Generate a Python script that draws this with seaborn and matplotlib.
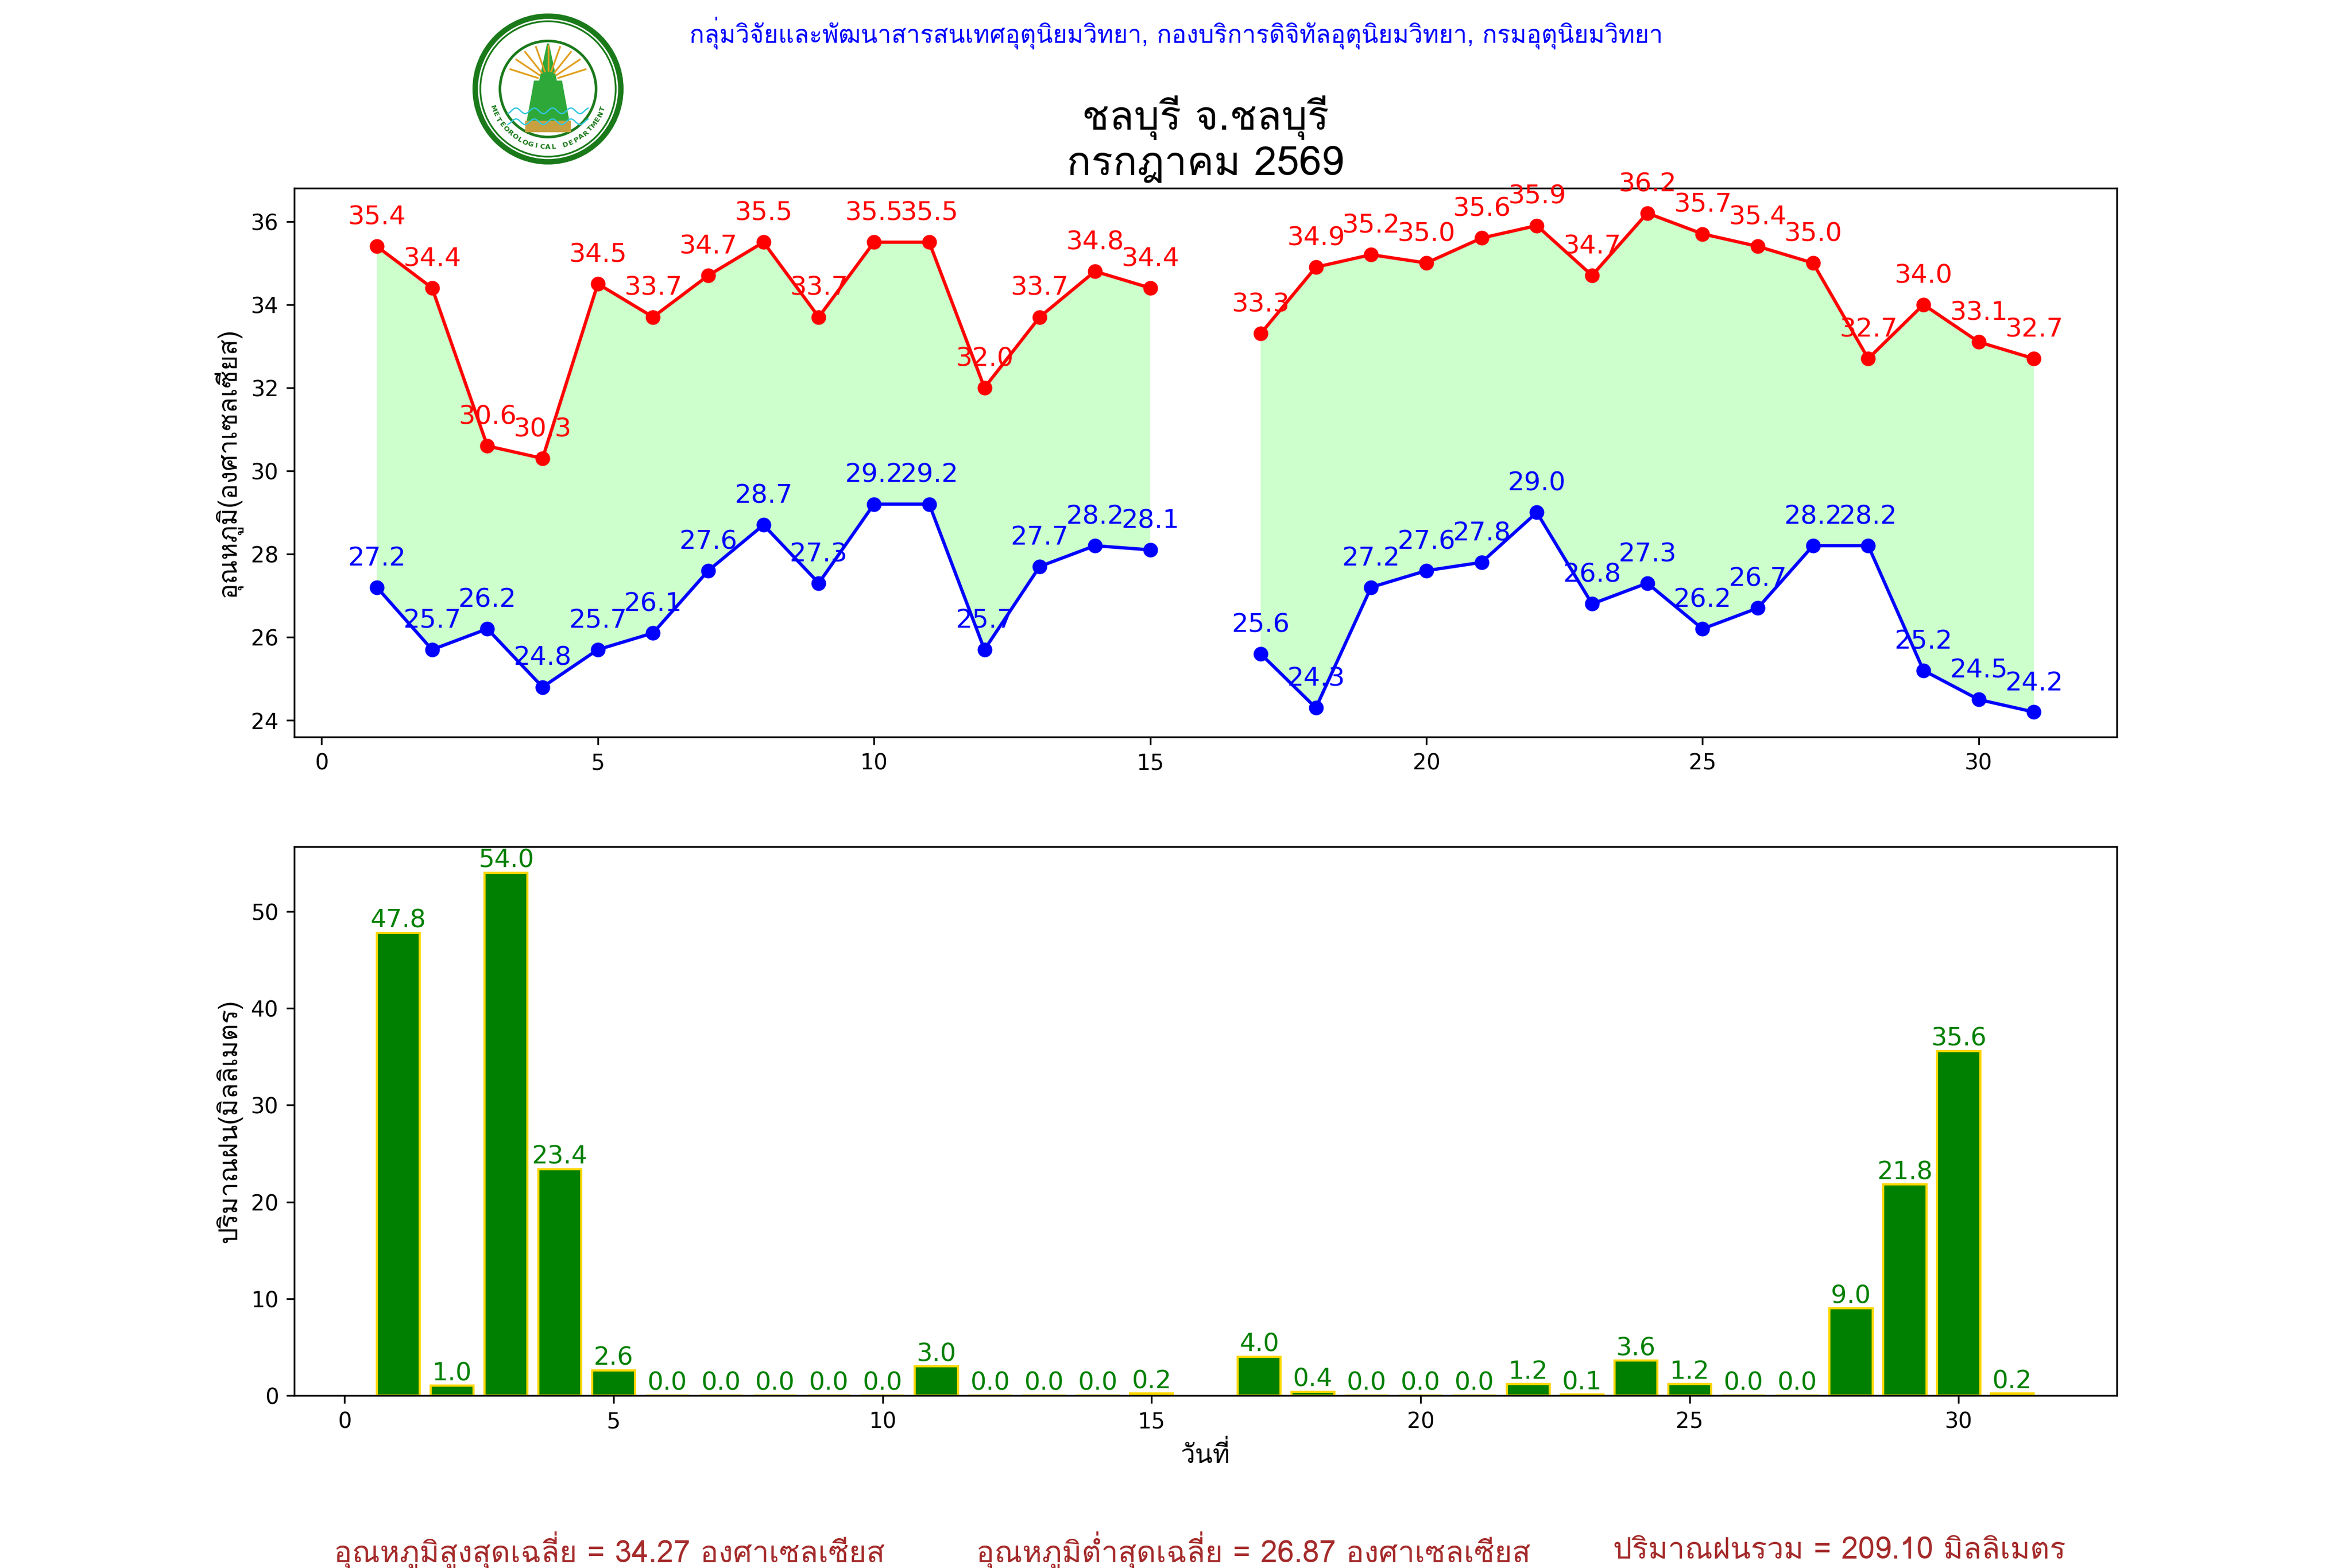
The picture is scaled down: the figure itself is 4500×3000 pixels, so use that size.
import numpy as np
import pandas as pd
import matplotlib
matplotlib.use("Agg")
import matplotlib.pyplot as plt
import seaborn as sns
from matplotlib import font_manager
from matplotlib.ft2font import FT2Font
from matplotlib.patches import Circle, Polygon

# daily data, July 2569 (day 16 missing)
days = list(range(1, 32))
tmax = [35.4, 34.4, 30.6, 30.3, 34.5, 33.7, 34.7, 35.5, 33.7, 35.5, 35.5, 32.0, 33.7, 34.8, 34.4, np.nan,
        33.3, 34.9, 35.2, 35.0, 35.6, 35.9, 34.7, 36.2, 35.7, 35.4, 35.0, 32.7, 34.0, 33.1, 32.7]
tmin = [27.2, 25.7, 26.2, 24.8, 25.7, 26.1, 27.6, 28.7, 27.3, 29.2, 29.2, 25.7, 27.7, 28.2, 28.1, np.nan,
        25.6, 24.3, 27.2, 27.6, 27.8, 29.0, 26.8, 27.3, 26.2, 26.7, 28.2, 28.2, 25.2, 24.5, 24.2]
rain = [47.8, 1.0, 54.0, 23.4, 2.6, 0.0, 0.0, 0.0, 0.0, 0.0, 3.0, 0.0, 0.0, 0.0, 0.2, np.nan,
        4.0, 0.4, 0.0, 0.0, 0.0, 1.2, 0.1, 3.6, 1.2, 0.0, 0.0, 9.0, 21.8, 35.6, 0.2]

header = "กลุ่มวิจัยและพัฒนาสารสนเทศอุตุนิยมวิทยา, กองบริการดิจิทัลอุตุนิยมวิทยา, กรมอุตุนิยมวิทยา"
station = "ชลบุรี จ.ชลบุรี"
month = "กรกฎาคม 2569"
ylab_temp = "อุณหภูมิ(องศาเซลเซียส)"
ylab_rain = "ปริมาณฝน(มิลลิเมตร)"
xlab = "วันที่"


# find any installed font that has Thai glyphs
def find_thai_font():
    preferred = ["Loma", "Garuda", "Noto Sans Thai", "Norasi", "Waree", "Sawasdee", "Umpush"]
    found = {}
    for f in font_manager.fontManager.ttflist:
        try:
            if 0x0E01 in FT2Font(f.fname).get_charmap():
                found.setdefault(f.name, f.fname)
        except Exception:
            pass
    for p in preferred:
        if p in found:
            return p
    return next(iter(found), None)


thai = find_thai_font()
fam = [thai, "DejaVu Sans"] if thai else ["DejaVu Sans"]
fam_num = ["DejaVu Sans", thai] if thai else ["DejaVu Sans"]
plt.rcParams["font.family"] = fam_num

df = pd.DataFrame({"day": days, "tmax": tmax, "tmin": tmin, "rain": rain})
df["seg"] = np.where(df["day"] < 16, 1, 2)
line_df = df.dropna(subset=["tmax"])
rain_df = df.dropna(subset=["rain"])

fig, (ax1, ax2) = plt.subplots(2, 1, figsize=(15, 10))

# temperature panel
ax1.fill_between(df["day"], df["tmin"], df["tmax"], color="#ccffcc", linewidth=0)
sns.lineplot(data=line_df, x="day", y="tmax", units="seg", estimator=None, color="red",
             marker="o", markersize=6, markeredgecolor="red", linewidth=1.5, ax=ax1)
sns.lineplot(data=line_df, x="day", y="tmin", units="seg", estimator=None, color="blue",
             marker="o", markersize=6, markeredgecolor="blue", linewidth=1.5, ax=ax1)
for d, hi, lo in zip(line_df["day"], line_df["tmax"], line_df["tmin"]):
    ax1.annotate(f"{hi:.1f}", (d, hi), xytext=(0, 10), textcoords="offset points",
                 ha="center", color="red", fontsize=12)
    ax1.annotate(f"{lo:.1f}", (d, lo), xytext=(0, 10), textcoords="offset points",
                 ha="center", color="blue", fontsize=12)
ax1.set_xlabel("")
ax1.set_ylabel(ylab_temp, fontsize=12, family=fam)
ax1.set_title(station + "\n" + month, fontsize=18.5, family=fam)

# rain panel
sns.barplot(data=rain_df, x="day", y="rain", native_scale=True, color="green", saturation=1,
            edgecolor="gold", linewidth=1, width=0.8, errorbar=None, ax=ax2)
for d, r in zip(rain_df["day"], rain_df["rain"]):
    ax2.text(d, r, f"{r:.1f}", ha="center", va="bottom", color="green", fontsize=11.5)
ax2.set_xlabel(xlab, fontsize=12, family=fam)
ax2.set_ylabel(ylab_rain, fontsize=12, family=fam)

# header and summary
fig.text(0.500, 0.979, header, color="blue", ha="center", va="center", fontsize=11.3, family=fam)
summary = [
    (0.259, f"อุณหภูมิสูงสุดเฉลี่ย = {np.nanmean(tmax):.2f} องศาเซลเซียส"),
    (0.533, f"อุณหภูมิต่ำสุดเฉลี่ย = {np.nanmean(tmin):.2f} องศาเซลเซียส"),
    (0.782, f"ปริมาณฝนรวม = {np.nansum(rain):.2f} มิลลิเมตร"),
]
for x, s in summary:
    fig.text(x, 0.011, s, color="brown", ha="center", va="center", fontsize=13.8, family=fam)

# simple stand-in for the department emblem
lg = fig.add_axes([0.2005, 0.8945, 0.065, 0.0975])
lg.set_xlim(-1.05, 1.05)
lg.set_ylim(-1.05, 1.05)
lg.set_aspect("equal")
lg.axis("off")
lg.add_patch(Circle((0, 0), 1.0, fill=False, edgecolor="#1a7a1a", linewidth=2.5))
lg.add_patch(Circle((0, 0), 0.93, fill=False, edgecolor="#1a7a1a", linewidth=0.8))
lg.add_patch(Circle((0, 0), 0.66, fill=False, edgecolor="#1a7a1a", linewidth=1.2))
for a in np.linspace(20, 160, 9):
    t = np.radians(a)
    lg.plot([0.15 * np.cos(t), 0.55 * np.cos(t)], [0.1 + 0.15 * np.sin(t), 0.1 + 0.5 * np.sin(t)],
            color="#e0a020", linewidth=0.8)
lg.add_patch(Polygon([[-0.12, 0.05], [0, 0.62], [0.12, 0.05]], color="#2fa83a"))
lg.add_patch(Polygon([[-0.28, -0.45], [-0.18, 0.1], [0.18, 0.1], [0.28, -0.45]], color="#2fa83a"))
lg.add_patch(Polygon([[-0.3, -0.58], [-0.3, -0.45], [0.3, -0.45], [0.3, -0.58]], color="#c8a040"))
for yy in (-0.3, -0.45):
    xs = np.linspace(-0.55, 0.55, 40)
    lg.plot(xs, yy + 0.04 * np.sin(xs * 25), color="#30c8e0", linewidth=0.6)
word = "METEOROLOGICAL DEPARTMENT"
for i, ch in enumerate(word):
    ang = np.radians(200 + i * (140 / (len(word) - 1)))
    lg.text(0.8 * np.cos(ang), 0.8 * np.sin(ang), ch, fontsize=3.2, color="#1a7a1a",
            ha="center", va="center", rotation=np.degrees(ang) + 90, fontweight="bold",
            family="DejaVu Sans")

fig.savefig("out.png", dpi=300)
